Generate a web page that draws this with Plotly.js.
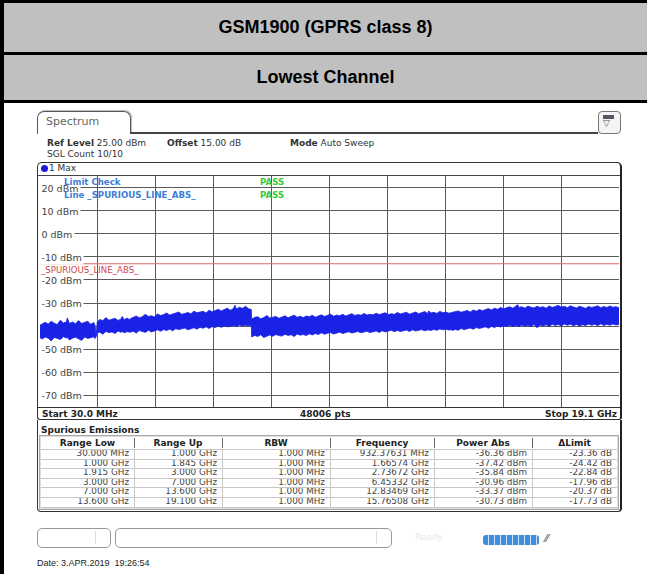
<!DOCTYPE html>
<html><head><meta charset="utf-8">
<script src="https://cdn.plot.ly/plotly-3.0.1.min.js"></script>
<style>
body{margin:0;width:647px;height:574px;overflow:hidden;background:#fff;position:relative;font-family:"DejaVu Sans",Verdana,sans-serif;}
.a{position:absolute;white-space:nowrap;}
.title{position:absolute;left:4px;width:643px;background:#c0c0c0;text-align:center;font-family:"Liberation Sans",Arial,sans-serif;font-weight:bold;font-size:18px;color:#000;}
.blk{position:absolute;background:#000;}
.t9{font-size:9px;color:#333;line-height:11px;}
.hdr{font-size:9px;font-weight:bold;color:#222;text-align:center;line-height:12px;}
.cell{font-size:8.8px;color:#444;text-align:right;line-height:9.6px;}
#plot{position:absolute;left:0;top:0;width:647px;height:574px;z-index:5;}
</style></head><body>
<div class="blk" style="left:0;top:0;width:4px;height:574px"></div>
<div class="blk" style="left:0;top:0;width:647px;height:3px"></div>
<div class="title" style="top:3px;height:49px;line-height:49px">GSM1900 (GPRS class 8)</div>
<div class="blk" style="left:0;top:52px;width:647px;height:3px"></div>
<div class="title" style="top:55px;height:45px;line-height:45px">Lowest Channel</div>
<div class="blk" style="left:0;top:100px;width:647px;height:3px"></div>

<!-- tab -->
<div class="a" style="left:37px;top:111px;width:92px;height:22px;border:1.3px solid #555;border-bottom:none;border-radius:7px 7px 0 0;box-shadow:1px -1px 1px #bbb"></div>
<div class="a" style="left:46px;top:115px;font-size:11px;color:#666">Spectrum</div>
<div class="a" style="left:130px;top:132px;width:468px;height:1.5px;background:#444"></div>
<div class="a" style="left:598px;top:111px;width:21px;height:21px;border:1.2px solid #777;border-radius:4px;background:#f4f4f4"></div>
<div class="a" style="left:603px;top:115px;width:11px;height:4px;background:#556"></div>
<div class="a" style="left:603px;top:118px;font-size:9px;color:#555">▽</div>

<div class="a t9" style="left:47px;top:138px"><b>Ref Level</b> 25.00 dBm</div>
<div class="a t9" style="left:167px;top:138px"><b>Offset</b> 15.00 dB</div>
<div class="a t9" style="left:290px;top:138px"><b>Mode</b> Auto Sweep</div>
<div class="a t9" style="left:47px;top:149px">SGL Count 10/10</div>

<!-- trace box -->
<div class="a" style="left:37px;top:162px;width:582px;height:256px;border:1.4px solid #333;border-right:2.2px solid #222;border-radius:5px 5px 3px 3px"></div>
<div class="a" style="left:41px;top:165px;width:7px;height:7px;border-radius:50%;background:#1a1ad8"></div>
<div class="a t9" style="left:49px;top:163px">1 Max</div>
<div class="a" style="left:37px;top:175px;width:583px;height:1px;background:#444"></div>
<div class="a" style="left:37px;top:407px;width:583px;height:1.3px;background:#333"></div>
<div class="a t9" style="left:42px;top:409px;font-weight:bold;color:#222">Start 30.0 MHz</div>
<div class="a t9" style="left:300px;top:409px;font-weight:bold;color:#222">48006 pts</div>
<div class="a t9" style="left:545px;top:409px;width:70px;text-align:right;font-weight:bold;color:#222">Stop 19.1 GHz</div>

<!-- spurious panel -->
<div class="a" style="left:37px;top:420px;width:582px;height:91px;border:1.4px solid #333;border-right:2.2px solid #222;border-top:none;border-radius:0 0 4px 4px"></div>
<div class="a t9" style="left:41px;top:425px;font-weight:bold;color:#222">Spurious Emissions</div>
<div id="tbl"></div>

<!-- status -->
<div class="a" style="left:37px;top:528px;width:72px;height:18px;border:1px solid #999;border-radius:5px"></div>
<div class="a" style="left:95px;top:531px;width:1px;height:13px;background:#ddd"></div>
<div class="a" style="left:115px;top:528px;width:275px;height:18px;border:1px solid #999;border-radius:5px"></div>
<div class="a" style="left:376px;top:531px;width:1px;height:13px;background:#ddd"></div>
<div class="a" style="left:415px;top:532px;font-size:9px;color:#e6e6e6">Ready</div>
<div class="a" style="left:483px;top:535px;width:56px;height:10px;border-radius:3px;background:repeating-linear-gradient(90deg,#3d8de0 0,#3d8de0 5px,#cfe3f7 5px,#cfe3f7 6px)"></div>
<div class="a" style="left:545px;top:533px;font-size:10px;color:#777;font-weight:bold">⁄⁄</div>
<div class="a" style="left:37px;top:558px;font-family:'Liberation Sans',Arial,sans-serif;font-size:9px;color:#222">Date: 3.APR.2019&nbsp; 19:26:54</div>

<div id="plot"></div>
<script>
// ---- spectrum trace envelope ----
const freqGHz = [
0.03,0.1,0.2,0.3,0.4,0.5,0.6,0.7,0.8,0.9,0.93,1.0,1.1,1.2,1.3,1.4,1.5,1.6,1.7,1.8,1.84,
1.88,
1.915,2.0,2.1,2.2,2.3,2.4,2.5,2.6,2.7,2.74,2.8,2.9,2.99,
3.0,3.1,3.2,3.3,3.4,3.5,3.6,3.7,3.8,3.9,4.0,4.1,4.2,4.3,4.4,4.5,4.6,4.7,4.8,4.9,
5.0,5.1,5.2,5.3,5.4,5.5,5.6,5.7,5.8,5.9,6.0,6.1,6.2,6.3,6.4,6.45,6.5,6.6,6.7,6.8,6.9,6.99,
7.0,7.1,7.2,7.3,7.4,7.5,7.6,7.7,7.8,7.9,8.0,8.1,8.2,8.3,8.4,8.5,8.6,8.7,8.8,8.9,
9.0,9.1,9.2,9.3,9.4,9.5,9.6,9.7,9.8,9.9,10.0,10.1,10.2,10.3,10.4,10.5,10.6,10.7,10.8,10.9,
11.0,11.1,11.2,11.3,11.4,11.5,11.6,11.7,11.8,11.9,12.0,12.1,12.2,12.3,12.4,12.5,12.6,12.7,12.8,12.83,12.9,
13.0,13.1,13.2,13.3,13.4,13.5,13.59,
13.6,13.7,13.8,13.9,14.0,14.1,14.2,14.3,14.4,14.5,14.6,14.7,14.8,14.9,15.0,15.1,15.2,15.3,15.4,15.5,
15.6,15.7,15.77,15.8,15.9,16.0,16.1,16.2,16.3,16.4,16.5,16.6,16.7,16.8,16.9,17.0,17.1,17.2,17.3,17.4,17.5,
17.6,17.7,17.8,17.9,18.0,18.1,18.2,18.3,18.4,18.5,18.6,18.7,18.8,18.9,19.0,19.1];
const upperDbm = [
-39.6,-38.9,-38.3,-39.1,-37.9,-38.7,-39.3,-37.4,-38.6,-38.1,-36.4,-38.9,-38.2,-39.0,-37.6,-38.8,-38.5,-37.9,-39.2,-38.4,-39.5,
-43.8,
-38.2,-37.1,-37.6,-36.3,-37.4,-37.0,-36.6,-37.5,-36.9,-35.8,-37.2,-36.5,-37.3,
-36.8,-36.1,-35.6,-36.4,-35.9,-34.9,-35.8,-35.5,-36.0,-34.7,-35.4,-35.0,-34.3,-35.2,-34.8,-34.6,-33.9,-34.9,-34.4,-34.1,
-34.6,-33.5,-34.2,-34.0,-33.6,-34.3,-33.1,-33.8,-33.3,-32.7,-33.4,-32.9,-32.2,-33.1,-32.4,-30.96,-32.6,-31.8,-32.3,-31.4,-32.5,-32.8,
-37.0,-36.2,-35.9,-36.8,-36.3,-35.4,-36.5,-36.1,-35.8,-36.6,-36.0,-35.5,-36.4,-35.9,-35.2,-36.2,-35.7,-36.3,-35.6,-35.9,
-35.3,-36.1,-35.6,-35.1,-35.8,-35.4,-34.8,-35.7,-35.2,-35.5,-34.9,-35.6,-35.1,-34.6,-35.4,-35.0,-35.3,-34.5,-35.2,-34.9,
-35.1,-34.4,-35.0,-34.7,-34.2,-35.0,-34.6,-34.9,-34.1,-34.7,-34.4,-34.0,-34.8,-34.3,-33.9,-34.6,-34.2,-33.7,-34.5,-33.37,-34.3,
-34.0,-34.5,-33.6,-34.2,-33.9,-34.4,-34.1,
-34.3,-33.8,-33.4,-34.0,-33.6,-33.2,-33.9,-33.0,-33.5,-32.8,-33.3,-32.9,-32.4,-33.0,-32.2,-32.7,-31.9,-32.5,-32.1,-31.6,
-32.2,-31.5,-30.73,-31.9,-31.6,-32.2,-31.3,-31.8,-32.1,-31.4,-31.9,-31.6,-32.2,-31.3,-31.9,-31.5,-31.0,-31.8,-31.4,-32.0,-31.2,
-31.7,-32.1,-31.4,-31.9,-32.3,-31.5,-31.9,-31.6,-31.2,-32.0,-31.5,-31.9,-31.3,-31.8,-31.6,-32.0];
const lowerDbm = [
-45.0,-45.6,-44.7,-45.2,-46.4,-44.9,-45.3,-45.8,-44.6,-45.1,-44.9,-46.0,-45.2,-44.8,-45.5,-46.2,-44.7,-45.3,-45.0,-44.6,-45.4,
-44.6,
-43.0,-42.6,-43.5,-42.3,-42.8,-42.5,-43.2,-42.1,-42.7,-42.3,-42.9,-42.4,-42.6,
-42.6,-42.2,-43.0,-41.9,-42.4,-42.7,-41.8,-42.5,-42.1,-41.6,-42.2,-41.5,-41.9,-41.3,-42.0,-41.1,-41.5,-41.2,-40.8,-41.6,
-41.0,-40.7,-41.3,-40.5,-40.9,-40.3,-41.0,-40.2,-40.6,-40.0,-40.5,-39.9,-40.3,-40.0,-39.6,-39.7,-40.2,-39.5,-39.9,-39.6,-39.8,-39.7,
-44.7,-44.0,-44.5,-43.7,-44.9,-44.2,-43.8,-44.4,-43.6,-44.1,-44.3,-43.5,-44.0,-43.7,-44.5,-43.4,-43.9,-43.6,-44.1,-43.3,
-43.8,-43.2,-43.6,-42.9,-43.5,-43.1,-42.8,-43.4,-42.9,-42.6,-43.2,-42.7,-42.4,-43.0,-42.6,-42.3,-42.9,-42.5,-42.2,-42.8,
-42.4,-42.1,-42.7,-42.0,-42.5,-42.2,-41.8,-42.4,-41.9,-42.3,-42.0,-41.7,-42.3,-41.6,-42.1,-41.8,-41.5,-42.0,-41.7,-41.6,-41.9,
-41.4,-41.8,-41.2,-41.6,-41.3,-41.7,-41.4,
-41.9,-41.4,-41.8,-41.0,-41.5,-41.2,-40.8,-41.3,-40.6,-41.0,-40.7,-40.3,-40.9,-40.1,-40.6,-39.9,-40.4,-39.8,-40.2,-39.6,
-40.1,-39.7,-39.9,-40.3,-39.5,-40.0,-39.6,-40.2,-39.3,-40.7,-39.5,-39.9,-39.4,-40.1,-39.2,-39.7,-39.3,-39.9,-39.1,-39.6,-39.2,
-39.8,-39.3,-39.9,-39.4,-39.7,-39.1,-39.6,-39.2,-39.8,-39.0,-39.7,-39.2,-39.6,-39.1,-39.5,-39.3];
const limitFreqGHz = [0.03, 19.1];
const limitDbm = [-13, -13];
const yTickVals = [20, 10, 0, -10, -20, -30, -50, -60, -70];

// ---- spurious emissions table ----
const tblHeaders = ["Range Low","Range Up","RBW","Frequency","Power Abs","\u0394Limit"];
const rangeLow = ["30.000 MHz","1.000 GHz","1.915 GHz","3.000 GHz","7.000 GHz","13.600 GHz"];
const rangeUp = ["1.000 GHz","1.845 GHz","3.000 GHz","7.000 GHz","13.600 GHz","19.100 GHz"];
const rbw = ["1.000 MHz","1.000 MHz","1.000 MHz","1.000 MHz","1.000 MHz","1.000 MHz"];
const peakFreq = ["932.37631 MHz","1.66574 GHz","2.73672 GHz","6.45332 GHz","12.83469 GHz","15.76508 GHz"];
const powerAbs = ["-36.36 dBm","-37.42 dBm","-35.84 dBm","-30.96 dBm","-33.37 dBm","-30.73 dBm"];
const deltaLimit = ["-23.36 dB","-24.42 dB","-22.84 dB","-17.96 dB","-20.37 dB","-17.73 dB"];

(function buildTable(){
  const cols = [rangeLow, rangeUp, rbw, peakFreq, powerAbs, deltaLimit];
  const edges = [41, 134, 222, 330, 434, 532, 617];
  const top = 437, hh = 12, rh = 9.6;
  let h = '';
  const tb = top + hh + rh*6 + 1;
  h += `<div class="a" style="left:${edges[0]-2}px;top:${top-2}px;width:${edges[6]-edges[0]+2}px;height:${tb-top+2}px;border:1px solid #aaa;box-shadow:inset 0 0 0 1px #ddd"></div>`;
  for (let c=0;c<6;c++){
    const l = edges[c], r = edges[c+1];
    h += `<div class="a hdr" style="left:${l}px;top:${top}px;width:${r-l}px">${tblHeaders[c]}</div>`;
    if (c>0) h += `<div class="a" style="left:${l}px;top:${top+1}px;width:1px;height:${hh-2}px;background:#666"></div>`;
    if (c>0) h += `<div class="a" style="left:${l}px;top:${top+hh}px;width:1px;height:${rh*6}px;background:#c8c8c8"></div>`;
    for (let i=0;i<6;i++){
      h += `<div class="a cell" style="left:${l}px;top:${top+hh+i*rh}px;width:${r-l-5}px">${cols[c][i]}</div>`;
    }
  }
  for (let i=0;i<=6;i++){
    h += `<div class="a" style="left:${edges[0]}px;top:${top+hh+i*rh}px;width:${edges[6]-edges[0]}px;height:1px;background:#c8c8c8"></div>`;
  }
  document.getElementById('tbl').innerHTML = h;
})();

const W = 647, H = 574;
const px = v => v / W, py = v => 1 - v / H;
const xMin = freqGHz[0], xMax = freqGHz[freqGHz.length-1];
const xDiv = (xMax - xMin) / 10;
const xGrid = [1,2,3,4,5,6,7,8,9].map(k => xMin + k*xDiv);
const blue = '#1a22e6';

const traces = [
  {x: freqGHz, y: lowerDbm, mode: 'lines', line: {color: blue, width: 0.8}, hoverinfo: 'skip'},
  {x: freqGHz, y: upperDbm, mode: 'lines', fill: 'tonexty', fillcolor: blue, line: {color: blue, width: 0.8}, hoverinfo: 'skip'},
  {x: limitFreqGHz, y: limitDbm, mode: 'lines', line: {color: '#e06464', width: 1}, hoverinfo: 'skip'}
];

const annFont = {family: 'DejaVu Sans, Verdana, sans-serif', size: 9.5, color: '#444'};
const annotations = yTickVals.map(v => ({
  xref: 'paper', yref: 'y', x: px(38.5), y: v, xanchor: 'left', yanchor: 'middle',
  text: v + ' dBm', showarrow: false, font: annFont, bgcolor: '#fff', borderpad: 1.5
}));
const lc = {family: 'DejaVu Sans, Verdana, sans-serif', size: 8.6, color: '#3d7fd6', weight: 'bold'};
const pc = {family: 'DejaVu Sans, Verdana, sans-serif', size: 8.6, color: '#3cc83c', weight: 'bold'};
annotations.push(
  {xref:'paper', yref:'paper', x:px(62), y:py(182), xanchor:'left', yanchor:'middle', text:'Limit Check', showarrow:false, font:lc},
  {xref:'paper', yref:'paper', x:px(62), y:py(195), xanchor:'left', yanchor:'middle', text:'Line _SPURIOUS_LINE_ABS_', showarrow:false, font:lc},
  {xref:'paper', yref:'paper', x:px(258), y:py(182), xanchor:'left', yanchor:'middle', text:'PASS', showarrow:false, font:pc},
  {xref:'paper', yref:'paper', x:px(258), y:py(195), xanchor:'left', yanchor:'middle', text:'PASS', showarrow:false, font:pc},
  {xref:'paper', yref:'paper', x:px(38), y:py(270), xanchor:'left', yanchor:'middle', text:'_SPURIOUS_LINE_ABS_', showarrow:false,
   font:{family:'DejaVu Sans, Verdana, sans-serif', size:8.6, color:'#d04848'}}
);

const layout = {
  width: W, height: H, margin: {l:0, r:0, t:0, b:0},
  paper_bgcolor: 'rgba(0,0,0,0)', plot_bgcolor: 'rgba(0,0,0,0)',
  showlegend: false,
  xaxis: {domain: [px(40), px(619)], range: [xMin, xMax], tickvals: xGrid, showticklabels: false, ticks: '',
          showgrid: true, gridcolor: '#5a5a5a', gridwidth: 1, zeroline: false, showline: false, fixedrange: true},
  yaxis: {domain: [py(407), py(176)], range: [-75, 25], tick0: -70, dtick: 10, showticklabels: false, ticks: '',
          showgrid: true, gridcolor: '#5a5a5a', gridwidth: 1, zeroline: false, showline: false, fixedrange: true},
  annotations: annotations
};
Plotly.newPlot('plot', traces, layout, {staticPlot: true, displayModeBar: false});
</script>
</body></html>
